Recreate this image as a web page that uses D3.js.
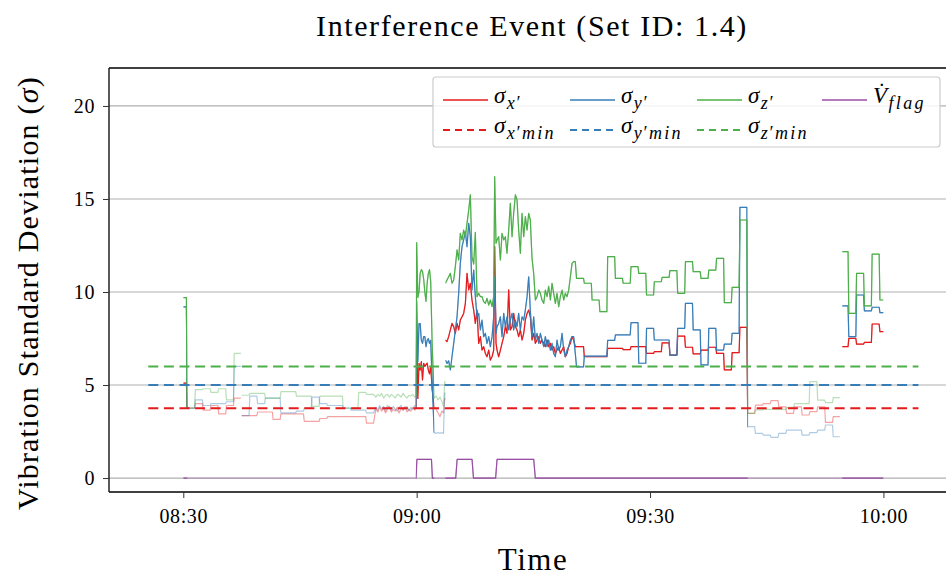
<!DOCTYPE html>
<html>
<head>
<meta charset="utf-8">
<script src="https://cdn.jsdelivr.net/npm/d3@7"></script>
<style>
  body { margin: 0; background: #fff; }
  svg text { font-family: "Liberation Serif", "DejaVu Serif", serif; fill: #000; }
</style>
</head>
<body>
<svg id="chart" width="946" height="576"></svg>
<script>
// ---------------------------------------------------------------
// Readings: minutes elapsed since 08:30, one entry per sample
// ---------------------------------------------------------------
const startClock = "08:30";

const minutes = [
  // 08:30 - 09:00
  0, 0.4, 0.5, 1.45, 1.55, 2.45, 2.55, 3.45, 3.55, 4.45, 4.55, 5.45, 5.55, 6.45, 6.55, 7.4,
  7.45,
  7.5, 8.45, 8.55, 9.45, 9.55, 10.45, 10.55, 11.45, 11.55, 12.45, 12.55, 13.45, 13.55, 14.45,
  14.55, 15.45, 15.55, 16.45, 16.55, 17.45, 17.55, 18.45, 18.55, 19.45, 19.55, 20.45, 20.55, 21.45,
  21.55, 22.45, 22.55, 23.45, 23.55, 24.45,
  24.75, 25, 25.25, 25.5, 25.75, 26, 26.25, 26.5, 26.75, 27, 27.25, 27.5, 27.75, 28, 28.25, 28.5,
  28.75, 29, 29.25, 29.5, 29.75, 29.9,
  // 09:00 - 09:04
  30, 30.15, 30.3, 30.45, 30.6, 30.75, 30.9, 31.05, 31.2, 31.35, 31.5, 31.65, 31.8, 32,
  32.25, 32.5, 32.75, 33, 33.25, 33.45, 33.6, 33.65,
  // 09:04 - 09:20
  33.7, 33.9, 34.11, 34.33, 34.54, 34.76, 34.97, 35.19, 35.4, 35.61,
  35.83, 36.04, 36.26, 36.47, 36.69, 36.9, 37.11, 37.33, 37.54, 37.76,
  37.97, 38.19, 38.4, 38.61, 38.83, 39.04, 39.26, 39.47, 39.69, 39.9,
  40.03, 40.2, 40.33, 40.54, 40.76, 40.97, 41.19, 41.4, 41.61, 41.83,
  42.04, 42.26, 42.47, 42.69, 42.9, 43.11, 43.33, 43.54, 43.76, 43.97,
  44.19, 44.4, 44.61, 44.83, 45.04, 45.26, 45.47, 45.69, 45.9, 46.11,
  46.33, 46.54, 46.76, 46.97, 47.19, 47.4, 47.61, 47.83, 48.04, 48.26,
  48.47, 48.69, 48.9, 49.11, 49.33, 49.54, 49.76, 49.97, 50.18, 50.39,
  // 09:20 - 09:43
  50.55, 51.45, 51.55, 52.45, 52.55, 53.45, 53.55, 54.45, 54.55, 55.45, 55.55, 56.45,
  56.55, 57.45, 57.55, 58.45, 58.55, 59.45, 59.55, 60.45, 60.55, 61.45, 61.55, 62.45,
  62.55, 63.45, 63.55, 64.45, 64.55, 65.45, 65.55, 66.45, 66.55, 67.45, 67.55, 68.45,
  68.55, 69.45, 69.55, 70.45, 70.55, 71.45, 71.55, 72.45,
  // 09:43 - 09:55
  72.55, 73.45, 73.55, 74.45, 74.55, 75.45, 75.55, 76.45, 76.55, 77.45, 77.55, 78.45,
  78.55, 79.45, 79.55, 80.45, 80.55, 81.45, 81.55, 82.45, 82.55, 83.45, 83.55, 84.4,
  84.55,
  // 09:55 - 10:00
  84.7, 85.45, 85.55, 86.45, 86.55, 87.45, 87.55, 88.45, 88.55, 89.45, 89.55, 90
];

const sigmaX = [
  5.1, 5.1, 3.76, 3.76, 4.0, 4.0, 3.65, 3.65, 3.9, 3.9, 3.45, 3.45, 3.9, 3.9, 4.3, 4.3,
  null,
  3.35, 3.35, 3.35, 3.35, 3.55, 3.55, 3.55, 3.55, 3.15, 3.15, 3.45, 3.45, 3.45, 3.45,
  3.45, 3.45, 3.05, 3.05, 3.05, 3.05, 3.2, 3.2, 3.3, 3.3, 3.3, 3.3, 3.3, 3.3,
  3.3, 3.3, 3.3, 3.3, 2.95, 2.95,
  3.7, 3.55, 3.8, 3.6, 3.75, 3.5, 3.7, 3.85, 3.55, 3.7, 3.6, 3.8, 3.5, 3.75, 3.65, 3.85,
  3.55, 3.7, 3.6, 3.8, 3.65, 3.75,
  7.87, 4.28, 6.17, 5.8, 6.26, 5.27, 6.17, 6.0, 6.1, 6.17, 5.8, 5.6, 6.0, 4.73,
  3.8, 3.7, 3.5, 3.3, 3.6, 3.5, 4.3, null,
  7.42, 7.33, 7.6, 7.96, 8.31, 8.14, 7.78, 8.31, 7.96, 8.49,
  8.67, 8.85, 9.39, 11.0, 10.11, 10.47, 9.57, 9.03, 8.31, 9.03,
  7.24, 7.6, 6.88, 7.06, 6.7, 6.52, 6.88, 6.34, 6.52, 6.88,
  12.44, 7.24, 6.88, 6.52, 6.88, 7.24, 7.6, 8.14, 7.78, 10.11,
  7.96, 8.14, 8.85, 8.14, 7.96, 7.6, 7.96, 7.42, 7.78, 8.49,
  8.85, 9.03, 8.67, 7.42, 7.78, 7.24, 7.42, 7.6, 7.24, 7.42,
  7.24, 7.06, 7.42, 7.06, 7.24, 6.88, 7.06, 6.7, 6.88, 7.06,
  6.7, 6.88, 7.06, 6.52, 6.7, 7.06, 7.24, 7.6, 7.42, 7.06,
  7.06, 7.06, 6.52, 6.52, 6.52, 6.52, 6.52, 6.52, 6.97, 6.97, 6.97, 6.97,
  6.9, 6.9, 7.06, 7.06, 7.06, 7.06, 6.7, 6.7, 6.79, 6.79, 7.27, 7.27,
  6.61, 6.61, 7.63, 7.63, 7.03, 7.03, 6.67, 6.67, 6.88, 6.88, 7.03, 7.03,
  6.7, 6.7, 5.81, 5.81, 6.74, 6.74, 8.1, 8.1,
  3.48, 3.48, 3.92, 3.92, 4.0, 4.0, 4.16, 4.16, 3.83, 3.83, 3.48, 3.48,
  3.83, 3.83, 3.39, 3.39, 3.57, 3.57, 3.83, 3.83, 2.99, 2.99, 3.3, 3.3,
  null,
  7.06, 7.06, 7.51, 7.51, 7.2, 7.2, 7.29, 7.29, 8.28, 8.28, 7.87, 7.87
];

const sigmaY = [
  9.2, 9.2, 3.76, 3.76, 4.2, 4.2, 3.9, 3.9, 4.0, 4.0, 4.0, 4.0, 4.1, 4.1, 6.0, 6.0,
  null,
  3.35, 3.35, 4.4, 4.4, 4.0, 4.0, 4.3, 4.3, 4.3, 4.3, 3.5, 3.5, 3.5, 3.5,
  3.6, 3.6, 3.76, 3.76, 4.35, 4.35, 4.0, 4.0, 3.9, 3.9, 3.9, 3.9, 3.76, 3.76,
  3.65, 3.65, 3.65, 3.65, 3.5, 3.5,
  3.8, 3.65, 3.9, 3.7, 3.85, 3.6, 3.9, 3.75, 3.65, 3.85, 3.7, 3.6, 3.8, 3.9, 3.65, 3.75,
  3.85, 3.6, 3.8, 3.7, 3.9, 3.8,
  9.53, 6.26, 8.3, 8.3, 7.4, 7.24, 7.6, 7.6, 7.06, 7.4, 7.5, 7.24, 7.4, 5.1,
  2.45, 2.4, 2.45, 2.4, 2.45, 2.4, 4.6, null,
  6.34, 6.16, 6.3, 5.81, 6.52, 7.24, 7.96, 8.67, 9.93, 11.54,
  12.44, 12.8, 13.24, 12.44, 13.69, 12.97, 10.11, 11.18, 9.75, 8.67,
  8.85, 7.96, 8.49, 7.6, 7.78, 7.24, 7.6, 7.06, 7.6, 8.67,
  10.82, 7.78, 8.14, 8.31, 8.67, 7.6, 8.85, 8.14, 8.67, 7.96,
  8.49, 8.85, 7.96, 8.49, 8.14, 8.85, 7.96, 8.67, 8.49, 9.03,
  9.75, 10.82, 9.0, 7.6, 8.67, 7.42, 7.78, 7.24, 7.78, 7.42,
  7.06, 7.6, 7.06, 7.42, 6.88, 7.24, 6.7, 6.52, 7.42, 6.88,
  7.06, 7.78, 6.88, 6.52, 6.88, 7.06, 7.42, 7.6, 7.6, 6.7,
  5.98, 5.98, 6.55, 6.55, 6.55, 6.55, 6.55, 6.55, 7.4, 7.4, 7.7, 7.7,
  7.7, 7.7, 8.35, 8.35, 6.17, 6.17, 8.05, 8.05, 7.42, 7.42, 7.42, 7.42,
  6.61, 6.61, 8.05, 8.05, 9.39, 9.39, 7.96, 7.96, 6.08, 6.08, 8.05, 8.05,
  6.88, 6.88, 7.2, 7.2, 7.78, 7.78, 14.55, 14.55,
  2.76, 2.76, 2.4, 2.4, 2.31, 2.31, 2.19, 2.19, 2.4, 2.4, 2.58, 2.58,
  2.58, 2.58, 2.31, 2.31, 2.44, 2.44, 2.58, 2.58, 2.85, 2.85, 2.22, 2.22,
  null,
  9.25, 9.25, 7.6, 7.6, 9.84, 9.84, 8.99, 8.99, 9.18, 9.18, 8.89, 8.89
];

const sigmaZ = [
  9.7, 9.7, 3.76, 3.76, 4.75, 4.75, 4.8, 4.8, 4.6, 4.6, 4.8, 4.8, 4.2, 4.2, 6.7, 6.7,
  null,
  4.45, 4.45, 4.55, 4.55, 4.55, 4.55, 4.3, 4.3, 4.3, 4.3, 4.65, 4.65, 4.65, 4.65,
  4.4, 4.4, 4.4, 4.4, 3.85, 3.85, 4.4, 4.4, 4.4, 4.4, 4.4, 4.4, 3.76, 3.76,
  3.76, 3.76, 4.6, 4.6, 4.5, 4.5,
  4.35, 4.5, 4.4, 4.55, 4.3, 4.45, 4.5, 4.35, 4.5, 4.4, 4.3, 4.5, 4.45, 4.35, 4.55, 4.4,
  4.3, 4.45, 4.4, 4.5, 4.35, 4.4,
  12.65, 9.7, 10.0, 11.0, 11.2, 11.1, 10.7, 10.0, 9.5, 10.5, 11.0, 11.2, 10.6, 7.06,
  4.3, 4.4, 4.2, 4.35, 4.1, 3.85, 5.2, null,
  10.47, 10.65, 10.82, 11.0, 10.47, 10.65, 11.36, 12.26, 11.72, 13.15,
  12.8, 13.33, 12.97, 13.69, 14.41, 15.22, 11.9, 11.5, 13.2, 9.75,
  9.93, 9.75, 9.75, 9.48, 9.39, 9.66, 9.3, 9.57, 9.21, 9.75,
  16.2, 12.62, 12.8, 12.97, 11.72, 13.15, 12.8, 12.97, 12.08, 13.33,
  14.77, 12.97, 14.23, 15.22, 14.95, 13.33, 12.08, 14.23, 12.97, 14.05,
  13.33, 14.23, 13.87, 11.8, 11.0, 9.57, 9.75, 10.1, 9.93, 9.57,
  9.39, 10.1, 9.75, 10.3, 9.57, 10.47, 9.93, 9.39, 9.93, 9.21,
  9.75, 10.1, 9.57, 9.93, 9.75, 10.1, 10.82, 11.54, 11.63, 11.63,
  10.73, 10.73, 10.47, 10.47, 9.57, 9.57, 8.94, 8.94, 11.9, 11.9, 10.73, 10.73,
  10.47, 10.47, 11.36, 11.36, 11.0, 11.0, 9.84, 9.84, 10.55, 10.55, 10.79, 10.79,
  11.15, 11.15, 9.93, 9.93, 11.63, 11.63, 11.09, 11.09, 10.73, 10.73, 11.18, 11.18,
  11.81, 11.81, 9.43, 9.43, 10.25, 10.25, 13.87, 13.87,
  3.48, 3.48, 3.66, 3.66, 3.69, 3.69, 3.69, 3.69, 3.69, 3.69, 3.8, 3.8,
  4.0, 4.0, 4.0, 4.0, 5.18, 5.18, 4.19, 4.19, 4.05, 4.05, 4.32, 4.32,
  null,
  12.17, 12.17, 8.85, 8.85, 11.0, 11.0, 9.25, 9.25, 12.04, 12.04, 9.57, 9.57
];

// Interference flag (0 / 1), switching instants in minutes since 08:30
const flagMinutes = [0, 29.92, 30.03, 31.9, 32.02, 35.02, 35.2, 37.12, 37.3, 40.15, 40.33, 45.05, 45.25, 90];
const flagValues  = [0, 0, 1, 1, 0, 0, 1, 1, 0, 0, 1, 1, 0, 0];

// Thresholds
const sigmaXMin = 3.75;
const sigmaYMin = 5.0;
const sigmaZMin = 6.0;
const thresholdSpan = [-4.5, 94.5];   // minutes since 08:30

// Stretches where the event detector is active (drawn at full strength)
const activeSpans = [[0, 0.5], [29.9, 32.25], [33.7, 72.55], [84.7, 90]];

const xTickLabels = ["08:30", "09:00", "09:30", "10:00"];
const yTickValues = [0, 5, 10, 15, 20];

// ---------------------------------------------------------------
// Layout
// ---------------------------------------------------------------
const W = 946, H = 576;
const plot = { left: 109, right: 955, top: 68, bottom: 492 };
const COLORS = { x: "#e41a1c", y: "#377eb8", z: "#4daf4a", flag: "#984ea3" };
const FADE = 0.4;

const parseClock = d3.timeParse("%H:%M");
const t0 = parseClock(startClock);
const at = m => new Date(t0.getTime() + m * 60000);

const x = d3.scaleTime()
  .domain([at(-9.55), at(99.2)])
  .range([plot.left, plot.right]);
const y = d3.scaleLinear()
  .domain([-0.75, 22.04])
  .range([plot.bottom, plot.top]);

const svg = d3.select("#chart");
svg.append("rect").attr("width", W).attr("height", H).attr("fill", "#fff");

const defs = svg.append("defs");
defs.append("clipPath").attr("id", "plotClip")
  .append("rect")
  .attr("x", plot.left).attr("y", plot.top)
  .attr("width", plot.right - plot.left).attr("height", plot.bottom - plot.top);
const activeClip = defs.append("clipPath").attr("id", "activeClip");
activeSpans.forEach(([a, b]) => {
  activeClip.append("rect")
    .attr("x", x(at(a))).attr("y", plot.top)
    .attr("width", x(at(b)) - x(at(a))).attr("height", plot.bottom - plot.top);
});

// Horizontal grid
svg.append("g").selectAll("line").data(yTickValues).join("line")
  .attr("x1", plot.left).attr("x2", plot.right)
  .attr("y1", d => y(d)).attr("y2", d => y(d))
  .attr("stroke", "#b0b0b0").attr("stroke-width", 1.2);

// Series
const lineGen = d3.line()
  .defined(d => d.v !== null)
  .x(d => x(d.t))
  .y(d => y(d.v));

const series = [
  { key: "x", times: minutes, values: sigmaX, color: COLORS.x },
  { key: "y", times: minutes, values: sigmaY, color: COLORS.y },
  { key: "z", times: minutes, values: sigmaZ, color: COLORS.z },
  { key: "flag", times: flagMinutes, values: flagValues, color: COLORS.flag }
];

const dataLayer = svg.append("g").attr("clip-path", "url(#plotClip)");
series.forEach(s => {
  const pts = s.times.map((m, i) => ({ t: at(m), v: s.values[i] }));
  const d = lineGen(pts);
  dataLayer.append("path").attr("d", d)
    .attr("fill", "none").attr("stroke", s.color)
    .attr("stroke-width", 1.2).attr("stroke-opacity", FADE)
    .attr("stroke-linejoin", "round");
  dataLayer.append("g").attr("clip-path", "url(#activeClip)")
    .append("path").attr("d", d)
    .attr("fill", "none").attr("stroke", s.color)
    .attr("stroke-width", 1.2)
    .attr("stroke-linejoin", "round");
});

// Threshold lines
const thresholds = [
  { v: sigmaXMin, color: COLORS.x },
  { v: sigmaYMin, color: COLORS.y },
  { v: sigmaZMin, color: COLORS.z }
];
svg.append("g").selectAll("line").data(thresholds).join("line")
  .attr("x1", x(at(thresholdSpan[0]))).attr("x2", x(at(thresholdSpan[1])))
  .attr("y1", d => y(d.v)).attr("y2", d => y(d.v))
  .attr("stroke", d => d.color).attr("stroke-width", 2)
  .attr("stroke-dasharray", "10,5.6");

// Frame (left, top, bottom)
const frame = svg.append("g").attr("stroke", "#000").attr("stroke-width", 1.3);
frame.append("line").attr("x1", plot.left).attr("x2", plot.left).attr("y1", plot.top).attr("y2", plot.bottom);
frame.append("line").attr("x1", plot.left).attr("x2", plot.right).attr("y1", plot.top).attr("y2", plot.top);
frame.append("line").attr("x1", plot.left).attr("x2", plot.right).attr("y1", plot.bottom).attr("y2", plot.bottom);

// Axes
const xAxis = d3.axisBottom(x)
  .tickValues(xTickLabels.map(parseClock))
  .tickFormat(d3.timeFormat("%H:%M"))
  .tickSize(6).tickPadding(11);
const gx = svg.append("g").attr("transform", `translate(0,${plot.bottom})`).call(xAxis);
gx.select(".domain").remove();
gx.selectAll(".tick line").attr("stroke", "#333").attr("stroke-width", 1);
gx.selectAll(".tick text").attr("font-size", 20).attr("letter-spacing", 0.6)
  .attr("font-family", "Liberation Serif, serif").attr("fill", "#000");

const yAxis = d3.axisLeft(y).tickValues(yTickValues).tickSize(6).tickPadding(8);
const gy = svg.append("g").attr("transform", `translate(${plot.left},0)`).call(yAxis);
gy.select(".domain").remove();
gy.selectAll(".tick line").attr("stroke", "#333").attr("stroke-width", 1);
gy.selectAll(".tick text").attr("font-size", 20).attr("letter-spacing", 0.6)
  .attr("font-family", "Liberation Serif, serif").attr("fill", "#000");

// Titles
svg.append("text").attr("x", 532).attr("y", 36).attr("text-anchor", "middle")
  .attr("font-size", 30).attr("letter-spacing", 1.6)
  .text("Interference Event (Set ID: 1.4)");
svg.append("text").attr("x", 533).attr("y", 570).attr("text-anchor", "middle")
  .attr("font-size", 31).attr("letter-spacing", 1.5).text("Time");
const yl = svg.append("text").attr("transform", "translate(38,293) rotate(-90)")
  .attr("text-anchor", "middle").attr("font-size", 30).attr("letter-spacing", 1.2);
yl.append("tspan").text("Vibration Standard Deviation (");
yl.append("tspan").attr("font-style", "italic").text("σ");
yl.append("tspan").text(")");

// Legend
const legendEntries = [
  { sym: "σ", sub: "x′", tail: "", color: COLORS.x, dash: null },
  { sym: "σ", sub: "y′", tail: "", color: COLORS.y, dash: null },
  { sym: "σ", sub: "z′", tail: "", color: COLORS.z, dash: null },
  { sym: "V\u0307", sub: "flag", tail: "", color: COLORS.flag, dash: null },
  { sym: "σ", sub: "x′", tail: "min", color: COLORS.x, dash: "7,5" },
  { sym: "σ", sub: "y′", tail: "min", color: COLORS.y, dash: "7,5" },
  { sym: "σ", sub: "z′", tail: "min", color: COLORS.z, dash: "7,5" }
];
const legendBox = { x: 433, y: 77, w: 507, h: 70 };
const colX = [443, 570, 697, 822];
const rowY = [100, 130];

const lg = svg.append("g");
lg.append("rect").attr("x", legendBox.x).attr("y", legendBox.y)
  .attr("width", legendBox.w).attr("height", legendBox.h)
  .attr("rx", 3).attr("fill", "#fff").attr("fill-opacity", 0.85)
  .attr("stroke", "#cccccc").attr("stroke-width", 1.2);

legendEntries.forEach((e, i) => {
  const col = i < 4 ? i : i - 4;
  const row = i < 4 ? 0 : 1;
  const lx = colX[col], ly = rowY[row];
  lg.append("line").attr("x1", lx).attr("x2", lx + 45).attr("y1", ly).attr("y2", ly)
    .attr("stroke", e.color).attr("stroke-width", e.dash ? 2 : 1.4)
    .attr("stroke-dasharray", e.dash);
  const t = lg.append("text").attr("x", lx + 51).attr("y", ly + 3).attr("font-style", "italic");
  t.append("tspan").attr("font-size", 23).text(e.sym);
  t.append("tspan").attr("font-size", 18)
    .attr("letter-spacing", e.sub.length > 2 ? 2.3 : 0.6)
    .attr("dy", 6).attr("dx", 1.5).text(e.sub);
  if (e.tail) {
    t.append("tspan").attr("font-size", 18).attr("letter-spacing", 2.3)
      .attr("dx", 2).text(e.tail);
  }
});
</script>
</body>
</html>
